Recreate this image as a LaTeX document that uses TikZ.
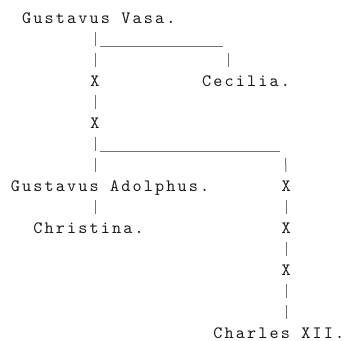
\documentclass[tikz,border=0pt]{standalone}
\usepackage{fontspec}
\newfontfamily\ascfont{lmmono10-regular}[Extension=.otf, LetterSpace=12.4]
\newcommand\gcx[1]{9.6+11.25*(#1)}
\newcommand\gcy[1]{18+21*(#1)}
\tikzset{
  lbl/.style={inner sep=0pt, anchor=west, text height=7.95pt, text depth=0pt,
    xshift=0.8pt, text=black!90, font=\ascfont\fontsize{13}{15}\selectfont},
  xmark/.style={lbl, anchor=center},
  pipe/.style={draw=black!55, line width=0.75pt, shorten <=10.5pt, shorten >=10.5pt,
    dash pattern=on 10.5pt off 5.25pt},
  bar/.style={draw=black!55, line width=0.75pt},
}
\begin{document}
\begin{tikzpicture}[x=0.75pt, y=-0.75pt]
\useasboundingbox (0,0) rectangle (344,341);
% names
\node[lbl] (vasa) at ({\gcx{1}},{\gcy{0}}) {Gustavus Vasa.};
\node[lbl] (cecilia) at ({\gcx{17}},{\gcy{3}}) {Cecilia.};
\node[lbl] (adolphus) at ({\gcx{0}},{\gcy{8}}) {Gustavus Adolphus.};
\node[lbl] (christina) at ({\gcx{2}},{\gcy{10}}) {Christina.};
\node[lbl] (charles) at ({\gcx{18}},{\gcy{15}}) {Charles XII.};
% unnamed descendants
\node[xmark] (x1) at ({\gcx{7.5}},{\gcy{3}}) {X};
\node[xmark] (x2) at ({\gcx{7.5}},{\gcy{5}}) {X};
\node[xmark] (x3) at ({\gcx{24.5}},{\gcy{8}}) {X};
\node[xmark] (x4) at ({\gcx{24.5}},{\gcy{10}}) {X};
\node[xmark] (x5) at ({\gcx{24.5}},{\gcy{12}}) {X};
% helper coordinates
\coordinate (ua) at ({\gcx{8}},{\gcy{1}+8});
\coordinate (ub) at ({\gcx{19}},{\gcy{1}+8});
\coordinate (ce) at ({\gcx{19.5}},{\gcy{1}});
\coordinate (va) at ({\gcx{8}},{\gcy{6}+8});
\coordinate (vb) at ({\gcx{24}},{\gcy{6}+8});
\coordinate (rt) at ({\gcx{24.5}},{\gcy{6}});
% connectors
\draw[pipe] (x1 |- vasa.west) -- (x1.center);
\draw[bar] (ua) -- (ub);
\draw[pipe] (ce) -- (ce |- cecilia.west);
\draw[pipe] (x1.center) -- (x2.center);
\draw[pipe] (x2.center) -- (x2 |- adolphus.west);
\draw[bar] (va) -- (vb);
\draw[pipe] (rt) -- (x3.center);
\draw[pipe] (x2 |- adolphus.west) -- (x2 |- christina.west);
\draw[pipe] (x3.center) -- (x4.center);
\draw[pipe] (x4.center) -- (x5.center);
\draw[pipe] (x5.center) -- (x5 |- charles.west);
\end{tikzpicture}
\end{document}
